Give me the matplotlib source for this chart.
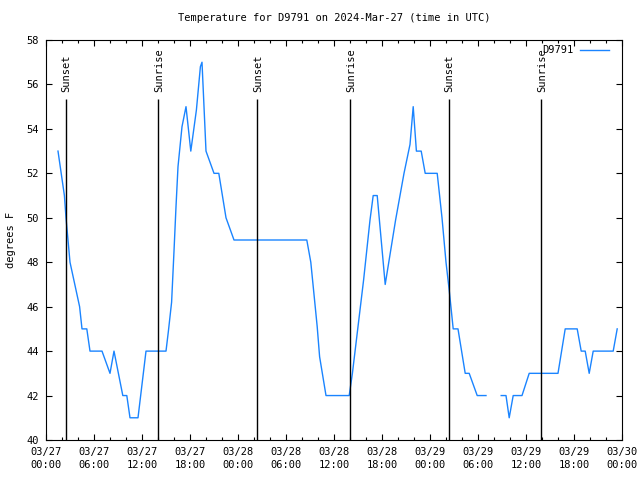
import numpy as np
import matplotlib
matplotlib.use("Agg")
import matplotlib.pyplot as plt

# hours since 2024-03-27 00:00 UTC
hours = [1.5, 2.3, 2.5, 3.0, 4.2, 4.5, 5.1, 5.5, 7.0, 8.0,
         8.5, 9.6, 10.1, 10.5, 11.5, 12.5, 15.0, 15.3, 15.7, 16.0,
         16.25, 16.5, 17.0, 17.5, 18.1, 18.8, 19.3, 19.5, 20.0, 21.0,
         21.6, 22.5, 23.5, 32.6, 33.1, 33.9, 34.2, 35.0, 37.9, 38.3,
         39.0, 39.7, 40.5, 40.9, 41.4, 42.4, 43.7, 44.75, 45.5, 45.9,
         46.3, 46.9, 47.4, 48.9, 49.5, 50.0, 50.4, 50.9, 51.5, 52.4,
         52.9, 53.9, 55.0, np.nan, 56.9, 57.5, 57.9, 58.4, 59.5, 60.4,
         64.0, 64.9, 66.4, 66.9, 67.4, 67.9, 68.4, 70.9, 71.4]
temps = [53, 51, 50, 48, 46, 45, 45, 44, 44, 43,
         44, 42, 42, 41, 41, 44, 44, 44.9, 46.2, 48.5,
         50.5, 52.3, 54.1, 55, 53, 54.85, 56.8, 57, 53, 52,
         52, 50, 49, 49, 48, 45.1, 43.75, 42, 42, 43,
         45.1, 47.2, 49.9, 51, 51, 47, 49.9, 52, 53.3, 55,
         53, 53, 52, 52, 50, 48, 46.75, 45, 45, 43,
         43, 42, 42, np.nan, 42, 42, 41, 42, 42, 43,
         43, 45, 45, 44, 44, 43, 44, 44, 45]

sun_hours = [2.46, 14.04, 26.42, 38.04, 50.33, 61.92]
sun_labels = ["Sunset", "Sunrise", "Sunset", "Sunrise", "Sunset", "Sunrise"]

xtick_hours = list(range(0, 73, 6))
xtick_labels = ["03/27\n00:00", "03/27\n06:00", "03/27\n12:00", "03/27\n18:00",
                "03/28\n00:00", "03/28\n06:00", "03/28\n12:00", "03/28\n18:00",
                "03/29\n00:00", "03/29\n06:00", "03/29\n12:00", "03/29\n18:00",
                "03/30\n00:00"]
yticks = list(range(40, 59, 2))

plt.rcParams['font.family'] = ['DejaVu Sans Mono']
FS = 7.5

fig = plt.figure(figsize=(6.4, 4.8), dpi=100)
ax = fig.add_axes([46/640, 40/480, 576/640, 400/480])

ax.plot(hours, temps, color='#1a84ff', lw=1.0, label='D9791')

ax.vlines(sun_hours, 40, 55.35, color='black', lw=1.0)
for h, lab in zip(sun_hours, sun_labels):
    ax.text(h + 0.1, 55.68, lab, rotation=90, ha='center', va='bottom', fontsize=FS)

ax.set_xlim(0, 72)
ax.set_ylim(40, 58)
ax.set_xticks(xtick_hours)
ax.set_xticklabels(xtick_labels, fontsize=FS, linespacing=1.35)
ax.set_xticks(np.arange(0, 73, 2), minor=True)
ax.set_yticks(yticks)
ax.set_yticklabels([str(v) for v in yticks], fontsize=FS)

ax.tick_params(axis='both', which='major', direction='in', length=4, width=0.8,
               top=True, right=True, pad=5)
ax.tick_params(axis='x', which='minor', direction='in', length=2.2, width=0.8,
               top=True, bottom=True)
for s in ax.spines.values():
    s.set_linewidth(0.8)

ax.set_title("Temperature for D9791 on 2024-Mar-27 (time in UTC)", fontsize=FS, pad=14)
ax.set_ylabel("degrees F", fontsize=FS)
ax.yaxis.set_label_coords(-0.052, 0.5)

ax.legend(loc='upper right', bbox_to_anchor=(1 - 8/576, 1), markerfirst=False,
          frameon=False, fontsize=FS, handlelength=2.8, handletextpad=0.6,
          borderaxespad=0.3, borderpad=0.2)

fig.savefig("out.png", dpi=100)
